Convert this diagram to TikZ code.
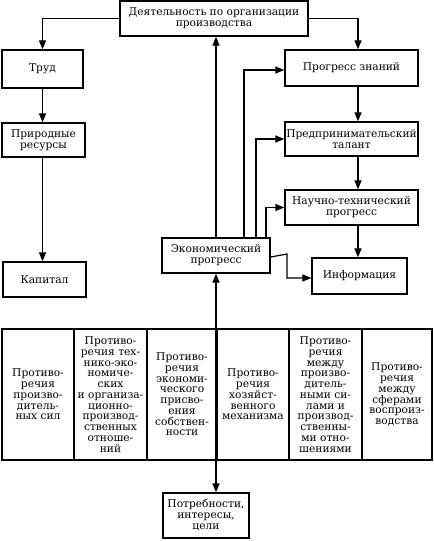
\documentclass[tikz,border=0pt]{standalone}
\usepackage{fontspec}
\setmainfont{DejaVu Serif}
\usetikzlibrary{arrows.meta}
\begin{document}
\begin{tikzpicture}[x=1bp,y=-1bp,
  box/.style={draw,line width=1.3bp,align=center,inner sep=0pt,
    font=\fontsize{10.7}{11}\selectfont},
  cell/.style={draw,line width=1.3bp,align=center,inner sep=0pt,
    minimum height=131bp,font=\fontsize{10.7}{10.8}\selectfont},
  arr/.style={-{Triangle[length=9bp,width=7bp]},line width=1.2bp},
  darr/.style={{Triangle[length=9bp,width=7bp]}-{Triangle[length=9bp,width=7bp]},line width=1.2bp}]
\useasboundingbox (0,0) rectangle (434,541);

% boxes
\node[box,minimum width=188bp,minimum height=35bp] (top) at (214,18.5) {Деятельность по организации\\производства};
\node[box,minimum width=81bp,minimum height=38bp] (trud) at (42.5,69) {Труд};
\node[box,minimum width=83bp,minimum height=34bp] (prir) at (43.5,140) {Природные\\ресурсы};
\node[box,minimum width=83bp,minimum height=35bp] (kap) at (44.5,279.5) {Капитал};
\node[box,minimum width=133bp,minimum height=36bp] (pz) at (351.5,68) {Прогресс знаний};
\node[box,minimum width=133bp,minimum height=34bp] (pt) at (351.5,139) {Предпринимательский\\талант};
\node[box,minimum width=133bp,minimum height=35bp] (nt) at (351.5,207.5) {Научно-технический\\прогресс};
\node[box,minimum width=95bp,minimum height=36bp] (info) at (359.5,276) {Информация};
\node[box,minimum width=108bp,minimum height=35bp] (eco) at (216,255.5) {Экономический\\прогресс};
\node[box,minimum width=86bp,minimum height=45bp] (potr) at (206,515.5) {Потребности,\\интересы,\\цели};

% table
\node[cell,minimum width=72bp] (c1) at (38,394.5) {Противо-\\речия\\произво-\\дитель-\\ных сил};
\node[cell,minimum width=73bp] (c2) at (110.5,394.5) {Противо-\\речия тех-\\нико-эко-\\номиче-\\ских\\и организа-\\ционно-\\производ-\\ственных\\отноше-\\ний};
\node[cell,minimum width=70bp] (c3) at (182,394.5) {Противо-\\речия\\экономи-\\ческого\\присво-\\ения\\собствен-\\ности};
\node[cell,minimum width=72bp] (c4) at (253,394.5) {Противо-\\речия\\хозяйст-\\венного\\механизма};
\node[cell,minimum width=73bp] (c5) at (325.5,394.5) {Противо-\\речия\\между\\произво-\\дитель-\\ными си-\\лами и\\производ-\\ственны-\\ми отно-\\шениями};
\node[cell,minimum width=70bp] (c6) at (397,394.5) {Противо-\\речия\\между\\сферами\\воспроиз-\\водства};

% left column
\draw[arr] (top.west) -| (trud.north);
\draw[arr] (trud.south) -- (trud.south |- prir.north);
\draw[arr] (trud.south |- prir.south) -- (trud.south |- kap.north);

% right column
\draw[arr] (top.east) -| ([xshift=6.5bp]pz.north);
\draw[arr] ([xshift=6.5bp]pz.south) -- ([xshift=6.5bp]pt.north);
\draw[arr] ([xshift=6.5bp]pt.south) -- ([xshift=6.5bp]nt.north);
\draw[arr] ([xshift=6.5bp]nt.south) -- ([xshift=6.5bp]nt.south |- info.north);

% economic progress links
\draw[arr] (eco.north) -- (eco.north |- top.south);
\draw[arr] ([xshift=28bp]eco.north) |- ([yshift=-2bp]pz.west);
\draw[arr] ([xshift=40bp]eco.north) |- (pt.west);
\draw[arr] ([xshift=50bp]eco.north) |- (nt.west);
\coordinate (bend) at (287,254);
\draw[arr] ([yshift=-1.5bp]eco.east) -- (bend) |- ([yshift=-2bp]info.west);

% needs
\draw[darr] (eco.south) -- (eco.south |- potr.north);
\end{tikzpicture}
\end{document}
